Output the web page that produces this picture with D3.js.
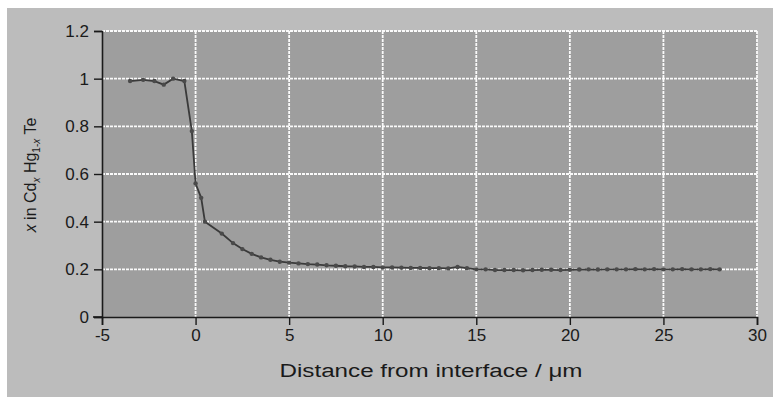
<!DOCTYPE html>
<html>
<head>
<meta charset="utf-8">
<script src="https://cdn.jsdelivr.net/npm/d3@7"></script>
<style>
  html, body { margin: 0; padding: 0; background: #fff; }
  svg text { font-family: "Liberation Sans", Arial, sans-serif; fill: #1a1a1a; }
</style>
</head>
<body>
<div id="chart"></div>
<script>
// distance from interface (um) and composition x
const distance = [-3.5, -2.8, -2.2, -1.7, -1.2, -0.6, -0.2, 0.0, 0.3, 0.5, 1.4, 2.0, 2.5, 3.0, 3.5, 4.0, 4.5, 5.0, 5.5, 6.0,
  6.5, 7.0, 7.5, 8.0, 8.5, 9.0, 9.5, 10.0, 10.5, 11.0, 11.5, 12.0, 12.5, 13.0, 13.5, 14.0, 14.5, 15.0, 15.5, 16.0,
  16.5, 17.0, 17.5, 18.0, 18.5, 19.0, 19.5, 20.0, 20.5, 21.0, 21.5, 22.0, 22.5, 23.0, 23.5, 24.0, 24.5, 25.0, 25.5, 26.0,
  26.5, 27.0, 27.5, 28.0];
const composition = [0.99, 0.995, 0.99, 0.975, 1.0, 0.99, 0.78, 0.56, 0.50, 0.40, 0.35, 0.31, 0.285, 0.265, 0.25, 0.24, 0.232, 0.228, 0.225, 0.222,
  0.22, 0.217, 0.215, 0.213, 0.212, 0.21, 0.21, 0.208, 0.208, 0.207, 0.206, 0.206, 0.205, 0.205, 0.204, 0.21, 0.205, 0.2, 0.2, 0.197,
  0.197, 0.197, 0.196, 0.197, 0.198, 0.198, 0.197, 0.198, 0.199, 0.2, 0.199, 0.2, 0.2, 0.2, 0.201, 0.2, 0.201, 0.2, 0.2, 0.201,
  0.2, 0.2, 0.201, 0.2];
const xTicks = [-5, 0, 5, 10, 15, 20, 25, 30];
const yTicks = [0, 0.2, 0.4, 0.6, 0.8, 1, 1.2];

const W = 773, H = 397;
const margin = { top: 31, right: 16, bottom: 80, left: 102 };
const w = W - margin.left - margin.right;
const h = H - margin.top - margin.bottom;

const svg = d3.select('#chart').append('svg').attr('width', W).attr('height', H);
// scanned page background
svg.append('rect').attr('x', 7).attr('y', 8).attr('width', W - 7).attr('height', H - 8).attr('fill', '#bcbcbc');

const g = svg.append('g').attr('transform', `translate(${margin.left},${margin.top})`);
const x = d3.scaleLinear().domain([-5, 30]).range([0, w]);
const y = d3.scaleLinear().domain([0, 1.2]).range([h, 0]);

g.append('rect').attr('width', w).attr('height', h).attr('fill', '#9e9e9e');

// white dotted grid
g.append('g').selectAll('line').data(xTicks.filter(d => d > -5)).join('line')
  .attr('x1', d => x(d)).attr('x2', d => x(d)).attr('y1', 0).attr('y2', h)
  .attr('stroke', '#fafafa').attr('stroke-width', 1.8).attr('stroke-dasharray', '3,1');
g.append('g').selectAll('line').data(yTicks.filter(d => d > 0)).join('line')
  .attr('x1', 0).attr('x2', w).attr('y1', d => y(d)).attr('y2', d => y(d))
  .attr('stroke', '#fafafa').attr('stroke-width', 1.8).attr('stroke-dasharray', '3,1');

const xAxis = g.append('g').attr('transform', `translate(0,${h})`)
  .call(d3.axisBottom(x).tickValues(xTicks).tickSize(8).tickPadding(4).tickFormat(d => String(d)));
const yAxis = g.append('g')
  .call(d3.axisLeft(y).tickValues(yTicks).tickSize(8).tickPadding(5).tickFormat(d => String(d)));
[xAxis, yAxis].forEach(a => {
  a.select('.domain').attr('stroke', '#1a1a1a').attr('stroke-width', 1.6);
  a.selectAll('.tick line').attr('stroke', '#1a1a1a').attr('stroke-width', 1.4);
  a.selectAll('text').style('font-size', '17px').attr('fill', '#1a1a1a');
});
// x axis line reaches the y=0 tick on the left
g.append('line').attr('x1', -9).attr('x2', 0).attr('y1', h).attr('y2', h).attr('stroke', '#1a1a1a').attr('stroke-width', 1.6);

const pts = distance.map((d, i) => [d, composition[i]]);
g.append('path').datum(pts)
  .attr('d', d3.line().x(d => x(d[0])).y(d => y(d[1])))
  .attr('fill', 'none').attr('stroke', '#3a3a3a').attr('stroke-width', 1.8);
g.append('g').selectAll('circle').data(pts).join('circle')
  .attr('cx', d => x(d[0])).attr('cy', d => y(d[1])).attr('r', 2.2)
  .attr('fill', '#4a4a4a');

// axis titles
svg.append('text').attr('x', 431).attr('y', 377).attr('text-anchor', 'middle')
  .attr('textLength', 303).attr('lengthAdjust', 'spacingAndGlyphs')
  .style('font-size', '18px').text('Distance from interface / μm');

const yt = svg.append('text').attr('transform', 'translate(36,175) rotate(-90)')
  .attr('text-anchor', 'middle').style('font-size', '16px');
yt.append('tspan').style('font-style', 'italic').text('x');
yt.append('tspan').text(' in Cd');
yt.append('tspan').attr('dy', 4).style('font-size', '10px').style('font-style', 'italic').text('x');
yt.append('tspan').attr('dy', -4).text(' Hg');
yt.append('tspan').attr('dy', 4).style('font-size', '10px').text('1-');
yt.append('tspan').style('font-size', '10px').style('font-style', 'italic').text('x');
yt.append('tspan').attr('dy', -4).text(' Te');
</script>
</body>
</html>
